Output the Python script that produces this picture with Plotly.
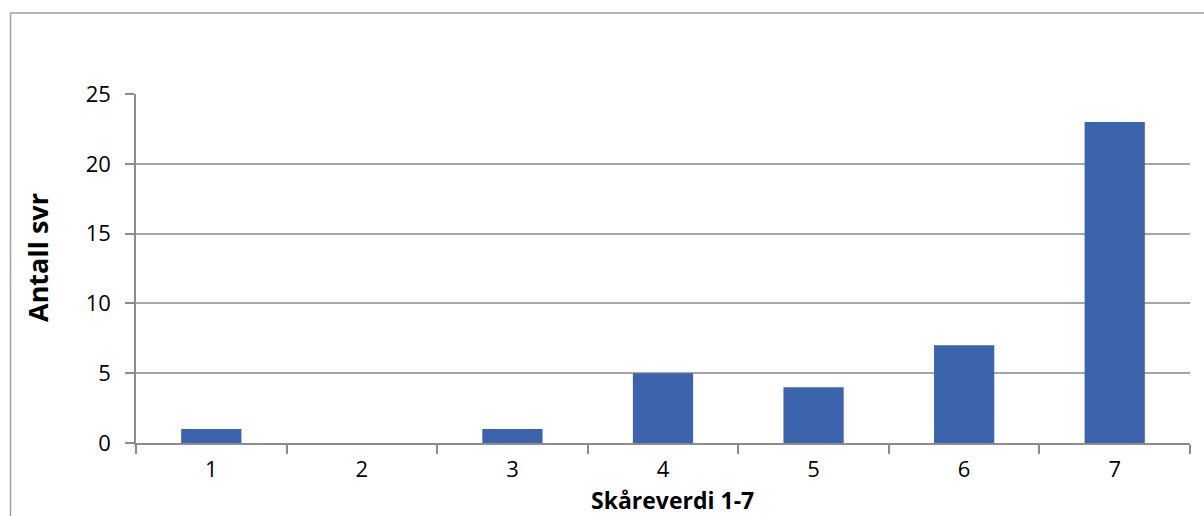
import plotly.graph_objects as go

# Score distribution (1-7) and number of responses per score
scores = ["1", "2", "3", "4", "5", "6", "7"]
counts = [1, 0, 1, 5, 4, 7, 23]
y_ticks = [0, 5, 10, 15, 20, 25]

W, H = 1204, 516
# plot area in pixels
PL, PR, PT, PB = 136, 1190, 94, 443
pw, ph = PR - PL, PB - PT

def px_x(x):
    return (x - PL) / pw

def px_y(y):
    return (PB - y) / ph

axis_grey = "#8c8c8c"
grid_grey = "#a6a6a6"
font_family = "Open Sans, Lato, sans-serif"

fig = go.Figure(
    go.Bar(
        x=scores,
        y=counts,
        marker=dict(color="#3c64ad", line=dict(width=0)),
        hoverinfo="x+y",
    )
)

fig.update_layout(
    width=W,
    height=H,
    margin=dict(l=PL, r=W - PR, t=PT, b=H - PB),
    paper_bgcolor="white",
    plot_bgcolor="white",
    bargap=0.6,
    showlegend=False,
    font=dict(family=font_family, size=22, color="#000000"),
)

fig.update_xaxes(
    type="category",
    range=[-0.5, 6.5],
    showline=True,
    linecolor=axis_grey,
    linewidth=1.5,
    ticks="outside",
    tickson="boundaries",
    ticklen=9,
    tickcolor=axis_grey,
    tickwidth=1.5,
    showgrid=False,
    ticklabelstandoff=6,
    tickfont=dict(size=22),
)

fig.update_yaxes(
    range=[0, 25],
    tickvals=y_ticks,
    showline=True,
    linecolor=axis_grey,
    linewidth=1.5,
    ticks="outside",
    ticklen=9,
    tickcolor=axis_grey,
    tickwidth=1.5,
    showgrid=True,
    gridcolor=grid_grey,
    gridwidth=1.5,
    zeroline=False,
    ticklabelstandoff=10,
    tickfont=dict(size=22),
)

# axis titles
fig.add_annotation(
    text="<b>Antall svr</b>",
    x=px_x(37), y=px_y(258), xref="paper", yref="paper",
    xanchor="center", yanchor="middle",
    textangle=-90, showarrow=False,
    font=dict(family=font_family, size=27),
)
fig.add_annotation(
    text="<b>Skåreverdi 1-7</b>",
    x=px_x(672), y=px_y(500), xref="paper", yref="paper",
    xanchor="center", yanchor="middle",
    showarrow=False,
    font=dict(family=font_family, size=23),
)

# chart frame
fig.add_shape(
    type="rect", xref="paper", yref="paper",
    x0=px_x(10.5), x1=px_x(1215), y0=px_y(540), y1=px_y(13),
    line=dict(color="#a0a0a0", width=1.5),
    fillcolor="rgba(0,0,0,0)",
    layer="below",
)

fig.write_html("out.html")
